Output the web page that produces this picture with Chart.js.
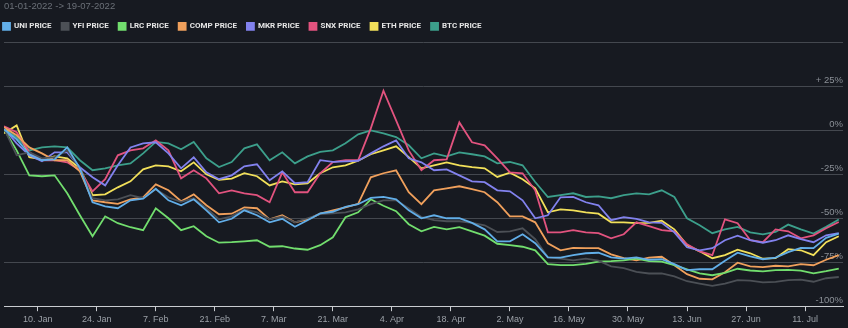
<!DOCTYPE html>
<html>
<head>
<meta charset="utf-8">
<script src="https://cdn.jsdelivr.net/npm/chart.js@4.4.0/dist/chart.umd.min.js"></script>
<style>
  html, body { margin: 0; padding: 0; background: #171a21; }
  #wrap { width: 848px; height: 328px; }
</style>
</head>
<body>
<div id="wrap"><canvas id="priceChart" width="848" height="328"></canvas></div>
<script>
// day offsets of the samples (0 = first day shown), every 3 days
const sampleDays = [0, 3, 6, 9, 12, 15, 18, 21, 24, 27, 30, 33, 36, 39, 42, 45, 48, 51, 54, 57,
  60, 63, 66, 69, 72, 75, 78, 81, 84, 87, 90, 93, 96, 99, 102, 105, 108, 111, 114, 117,
  120, 123, 126, 129, 132, 135, 138, 141, 144, 147, 150, 153, 156, 159, 162, 165, 168, 171, 174, 177,
  180, 183, 186, 189, 192, 195, 198];

// bottom axis ticks
const tickDays = [8, 22, 36, 50, 64, 78, 92, 106, 120, 134, 148, 162, 176, 190];
const tickLabels = ['10. Jan', '24. Jan', '7. Feb', '21. Feb', '7. Mar', '21. Mar', '4. Apr',
  '18. Apr', '2. May', '16. May', '30. May', '13. Jun', '27. Jun', '11. Jul'];

// % change since 01-01-2022
const uniValues = [0.6, -5.1, -13.6, -17.0, -16.5, -9.7, -21.6, -40.9, -43.2, -44.3,
  -39.8, -38.9, -33.2, -39.8, -42.6, -39.2, -45.5, -52.3, -50.3, -45.5,
  -48.3, -52.3, -50.3, -54.8, -51.1, -47.2, -46.3, -43.5, -42.0, -38.4,
  -37.8, -39.2, -45.5, -50.0, -48.3, -50.0, -50.0, -52.6, -56.3, -63.1,
  -63.1, -59.1, -64.2, -72.2, -72.4, -71.0, -69.9, -69.6, -72.2, -72.9,
  -72.2, -73.6, -73.3, -76.1, -79.5, -79.0, -79.0, -74.1, -69.6, -71.6,
  -73.3, -72.4, -69.3, -66.8, -67.0, -61.1, -58.7];
const yfiValues = [1.1, -14.2, -12.5, -15.9, -15.3, -11.4, -21.6, -38.6, -39.8, -39.2,
  -36.9, -38.6, -33.5, -38.1, -40.7, -38.6, -44.3, -50.6, -48.9, -44.9,
  -46.6, -50.6, -48.9, -52.3, -50.0, -47.7, -47.2, -46.6, -44.9, -42.0,
  -39.8, -39.8, -44.3, -49.3, -51.1, -51.7, -51.7, -52.6, -54.0, -57.8,
  -57.4, -55.7, -61.9, -72.2, -73.0, -73.9, -73.0, -74.1, -77.3, -78.4,
  -80.5, -81.4, -81.4, -83.0, -85.8, -87.1, -88.4, -87.2, -85.2, -85.5,
  -86.5, -86.2, -85.2, -84.9, -86.1, -84.1, -83.4];
const lrcValues = [0.6, -11.4, -25.6, -26.1, -25.6, -35.8, -48.3, -60.2, -48.9, -52.8,
  -55.1, -56.8, -44.3, -50.0, -56.8, -54.5, -60.2, -63.9, -63.6, -63.1,
  -62.5, -66.2, -65.9, -67.2, -67.9, -65.3, -60.8, -49.4, -46.6, -39.2,
  -42.9, -46.0, -53.4, -57.4, -54.9, -56.3, -55.1, -57.4, -59.9, -64.5,
  -65.3, -66.2, -68.2, -76.1, -76.7, -76.7, -75.9, -74.7, -74.4, -73.9,
  -73.0, -74.4, -74.7, -76.7, -79.0, -81.3, -82.4, -81.0, -78.7, -79.7,
  -80.2, -79.5, -79.3, -79.8, -81.3, -80.1, -78.6];
const compValues = [1.7, -2.8, -9.7, -13.1, -17.0, -17.0, -23.3, -39.8, -40.9, -41.8,
  -39.2, -38.1, -30.7, -34.1, -40.3, -36.4, -42.6, -47.7, -47.4, -43.8,
  -44.3, -50.6, -48.3, -52.3, -50.6, -47.4, -45.5, -43.8, -41.8, -26.7,
  -24.4, -22.7, -35.2, -42.0, -34.1, -33.0, -31.8, -33.5, -35.2, -40.9,
  -48.9, -48.9, -52.3, -64.2, -68.2, -66.8, -67.0, -67.0, -70.5, -72.7,
  -73.9, -72.4, -71.9, -76.7, -81.8, -84.4, -84.7, -80.7, -75.3, -77.4,
  -77.8, -77.0, -77.3, -76.1, -76.7, -73.6, -71.0];
const mkrValues = [1.1, -7.4, -14.2, -17.6, -12.5, -12.5, -21.0, -26.7, -31.3, -19.9,
  -9.7, -7.4, -6.8, -13.1, -21.6, -15.3, -23.9, -27.8, -25.6, -20.5,
  -19.3, -28.4, -23.3, -30.1, -29.5, -17.0, -17.9, -17.6, -17.3, -13.1,
  -9.1, -5.7, -15.9, -18.2, -22.7, -22.2, -25.6, -29.0, -29.5, -34.1,
  -34.7, -39.8, -50.0, -48.3, -38.1, -37.8, -40.9, -42.6, -51.1, -49.4,
  -50.3, -52.3, -52.6, -58.0, -66.5, -68.2, -67.0, -62.5, -59.9, -62.5,
  -63.9, -62.5, -59.7, -61.9, -63.6, -59.7, -58.4];
const snxValues = [2.3, -1.1, -12.5, -17.0, -17.0, -18.2, -22.7, -34.7, -27.8, -14.2,
  -11.4, -10.2, -5.7, -11.4, -27.3, -22.7, -27.3, -35.8, -34.1, -35.8,
  -36.9, -40.9, -23.9, -35.2, -35.2, -24.4, -18.0, -17.0, -17.0, 1.1,
  22.5, 5.7, -11.4, -22.7, -17.0, -16.5, 4.5, -6.8, -8.5, -15.9,
  -23.9, -24.4, -34.1, -58.0, -58.0, -56.8, -58.0, -58.5, -61.4, -59.1,
  -52.3, -54.5, -56.8, -57.4, -64.8, -68.8, -71.0, -50.6, -52.8, -62.5,
  -63.6, -56.3, -57.4, -61.4, -59.7, -55.7, -52.1];
const ethValues = [-1.7, 2.8, -15.3, -16.5, -14.8, -15.9, -21.6, -36.9, -36.4, -32.4,
  -29.0, -22.2, -19.9, -20.5, -23.3, -18.2, -25.0, -28.1, -27.4, -24.4,
  -26.1, -31.3, -29.0, -30.7, -30.1, -24.4, -21.0, -19.9, -17.3, -13.6,
  -11.4, -9.1, -15.2, -21.6, -19.9, -18.2, -19.9, -20.9, -21.6, -26.5,
  -24.1, -27.8, -33.0, -46.6, -44.9, -45.5, -46.6, -47.4, -52.3, -52.3,
  -52.8, -52.6, -51.4, -56.3, -65.3, -68.8, -72.7, -71.0, -67.9, -69.9,
  -73.0, -72.7, -67.6, -68.2, -71.0, -63.6, -60.2];
const btcValues = [1.1, -4.0, -11.4, -9.7, -9.1, -9.7, -17.0, -22.7, -21.6, -19.9,
  -18.8, -13.1, -6.6, -7.4, -10.8, -6.6, -15.9, -20.9, -18.0, -10.2,
  -8.0, -17.0, -12.5, -18.8, -14.8, -12.3, -11.4, -7.4, -2.3, 0.0,
  -1.7, -3.8, -8.5, -15.9, -13.1, -14.8, -12.5, -13.6, -14.8, -18.8,
  -18.0, -19.9, -29.4, -37.9, -36.9, -35.8, -37.9, -37.5, -38.6, -36.9,
  -35.8, -36.4, -34.1, -37.9, -50.0, -54.0, -58.5, -56.3, -54.9, -58.0,
  -59.1, -57.8, -53.6, -56.3, -58.7, -54.9, -50.7];

const seriesNames = ['UNI PRICE', 'YFI PRICE', 'LRC PRICE', 'COMP PRICE', 'MKR PRICE', 'SNX PRICE', 'ETH PRICE', 'BTC PRICE'];
const seriesValues = [uniValues, yfiValues, lrcValues, compValues, mkrValues, snxValues, ethValues, btcValues];
const seriesColors = ['#62aee8', '#4c5056', '#72de6e', '#f0a05c', '#8282ee', '#e2537f', '#f2e05a', '#3c9f8b'];

const datasets = seriesNames.map(function (name, i) {
    return {
        label: name,
        data: seriesValues[i].map((v, k) => ({ x: sampleDays[k], y: v })),
        borderColor: seriesColors[i],
        backgroundColor: seriesColors[i],
        borderWidth: 1.8,
        pointRadius: 0,
        tension: 0
    };
});

// pull the legend row back to the left edge and up a little
// (labels.padding also spaces the items, title padding pushes the plot down)
const legendShift = {
    id: 'legendShift',
    afterLayout(chart) {
        chart.legend.left -= 11;
        chart.legend.top -= 2;
    }
};

const ctx = document.getElementById('priceChart').getContext('2d');
new Chart(ctx, {
    type: 'line',
    data: { datasets: datasets },
    options: {
        responsive: false,
        animation: false,
        layout: { padding: { left: 4, right: 5, top: 0, bottom: 0 } },
        plugins: {
            title: {
                display: true,
                text: '01-01-2022 -> 19-07-2022',
                align: 'start',
                color: '#6b7078',
                font: { family: "'Liberation Sans', Arial, sans-serif", size: 9.5, weight: 'normal' },
                padding: { top: 1, bottom: 2 }
            },
            legend: {
                position: 'top',
                align: 'start',
                labels: {
                    boxWidth: 7,
                    boxHeight: 7,
                    padding: 10,
                    color: '#e6e6e6',
                    font: { family: "Roboto, 'Liberation Sans', sans-serif", size: 8, weight: 'bold' }
                }
            },
            tooltip: { enabled: false }
        },
        scales: {
            x: {
                type: 'linear',
                min: 0,
                max: 199,
                afterBuildTicks: function (axis) {
                    axis.ticks = tickDays.map(d => ({ value: d }));
                },
                ticks: {
                    color: '#9ba0a7',
                    padding: 3,
                    maxRotation: 0,
                    font: { family: "'Liberation Sans', Arial, sans-serif", size: 9 },
                    callback: function (value) {
                        const i = tickDays.indexOf(value);
                        return i >= 0 ? tickLabels[i] : '';
                    }
                },
                grid: { display: true, drawOnChartArea: false, drawTicks: true, tickLength: 5, color: '#c9ccd0' },
                border: { display: true, color: '#c9ccd0', width: 1 }
            },
            y: {
                position: 'right',
                min: -100,
                max: 50,
                ticks: {
                    stepSize: 25,
                    mirror: true,
                    padding: 0,
                    labelOffset: -6,
                    color: '#8b9097',
                    font: { family: "'Liberation Sans', Arial, sans-serif", size: 9.5 },
                    callback: function (value) {
                        if (value === 50) return '';
                        return value > 0 ? '+ ' + value + '%' : value + '%';
                    }
                },
                grid: { color: '#44484f', lineWidth: 1, drawTicks: false },
                border: { display: false }
            }
        }
    },
    plugins: [legendShift]
});
</script>
</body>
</html>
